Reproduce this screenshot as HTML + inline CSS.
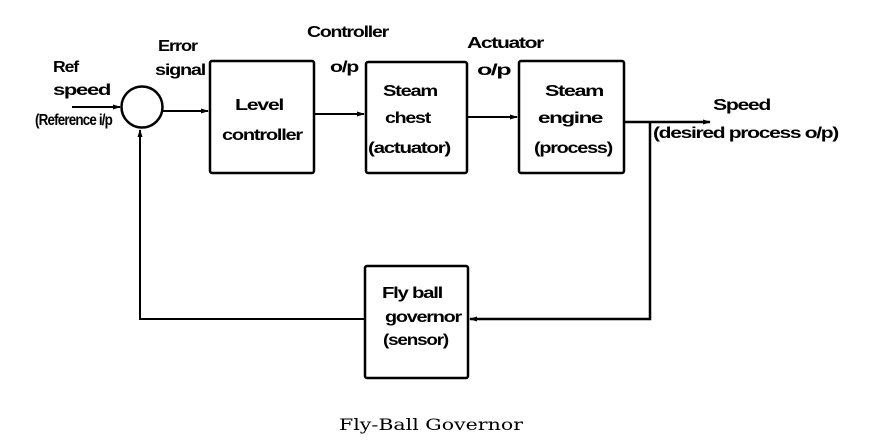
<!DOCTYPE html>
<html><head><meta charset="utf-8"><style>
html,body{margin:0;padding:0;background:#fff;}
svg{display:block}
.t{font-family:"Liberation Sans",sans-serif;font-size:16px;font-weight:bold;fill:#000;letter-spacing:-1px}
.c{font-family:"DejaVu Serif","Liberation Serif",serif;font-size:16px;fill:#000}
</style></head><body>
<svg width="890" height="448" viewBox="0 0 890 448" xmlns="http://www.w3.org/2000/svg">
<defs><marker id="a" markerWidth="8" markerHeight="6" refX="7" refY="3" orient="auto" markerUnits="userSpaceOnUse"><path d="M0,0.5 L8,3 L0,5.5 z" fill="#000"/></marker></defs>
<g fill="none" stroke="#000" stroke-width="2.5">
<circle cx="142" cy="107" r="20.5"/>
<rect x="210" y="61" width="104" height="112" rx="2"/>
<rect x="366" y="62" width="101" height="111" rx="2"/>
<rect x="519" y="61" width="105" height="112" rx="2"/>
<rect x="365" y="266" width="103" height="112" rx="2"/>
</g>
<g fill="none" stroke="#000" stroke-width="2">
<line x1="72" y1="107" x2="120" y2="107" marker-end="url(#a)"/>
<line x1="163" y1="111" x2="208" y2="111" marker-end="url(#a)"/>
<line x1="314" y1="114" x2="364" y2="114" marker-end="url(#a)"/>
<line x1="467" y1="117" x2="517" y2="117" marker-end="url(#a)"/>
<line x1="624" y1="122" x2="710" y2="122" stroke-width="2.5" marker-end="url(#a)"/>
<polyline points="650,122 650,319 470,319" stroke-width="2.5" marker-end="url(#a)"/>
<polyline points="365,319 140,319 140,130" marker-end="url(#a)"/>
</g>
<text class="t" x="53" y="72" textLength="25" lengthAdjust="spacingAndGlyphs">Ref</text>
<text class="t" x="53" y="95" textLength="57" lengthAdjust="spacingAndGlyphs">speed</text>
<text class="t" x="35" y="125" textLength="77" lengthAdjust="spacingAndGlyphs">(Reference i/p</text>
<text class="t" x="158" y="51" textLength="39" lengthAdjust="spacingAndGlyphs">Error</text>
<text class="t" x="155" y="75" textLength="50" lengthAdjust="spacingAndGlyphs">signal</text>
<text class="t" x="307" y="37" textLength="81" lengthAdjust="spacingAndGlyphs">Controller</text>
<text class="t" x="330" y="72" textLength="28" lengthAdjust="spacingAndGlyphs">o/p</text>
<text class="t" x="235" y="110" textLength="48" lengthAdjust="spacingAndGlyphs">Level</text>
<text class="t" x="222" y="140" textLength="80" lengthAdjust="spacingAndGlyphs">controller</text>
<text class="t" x="383" y="96" textLength="54" lengthAdjust="spacingAndGlyphs">Steam</text>
<text class="t" x="385" y="123" textLength="45" lengthAdjust="spacingAndGlyphs">chest</text>
<text class="t" x="368" y="153" textLength="82" lengthAdjust="spacingAndGlyphs">(actuator)</text>
<text class="t" x="467" y="48" textLength="76" lengthAdjust="spacingAndGlyphs">Actuator</text>
<text class="t" x="477" y="75" textLength="33" lengthAdjust="spacingAndGlyphs">o/p</text>
<text class="t" x="545" y="96" textLength="58" lengthAdjust="spacingAndGlyphs">Steam</text>
<text class="t" x="538" y="123" textLength="64" lengthAdjust="spacingAndGlyphs">engine</text>
<text class="t" x="534" y="153" textLength="78" lengthAdjust="spacingAndGlyphs">(process)</text>
<text class="t" x="713" y="110" textLength="57" lengthAdjust="spacingAndGlyphs">Speed</text>
<text class="t" x="653" y="138" textLength="185" lengthAdjust="spacingAndGlyphs">(desired process o/p)</text>
<text class="t" x="382" y="298" textLength="60" lengthAdjust="spacingAndGlyphs">Fly ball</text>
<text class="t" x="385" y="322" textLength="76" lengthAdjust="spacingAndGlyphs">governor</text>
<text class="t" x="383" y="345" textLength="65" lengthAdjust="spacingAndGlyphs">(sensor)</text>
<text class="c" x="339" y="430" textLength="184" lengthAdjust="spacingAndGlyphs">Fly-Ball Governor</text>
</svg>
</body></html>
